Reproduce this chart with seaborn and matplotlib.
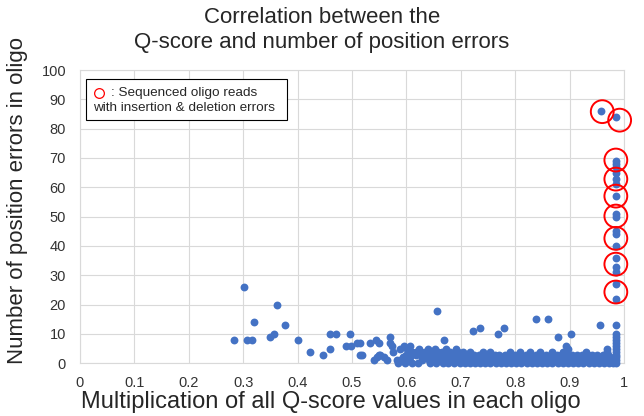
import matplotlib
matplotlib.use("Agg")
import pandas as pd
import matplotlib.pyplot as plt
import seaborn as sns
from matplotlib.patches import Rectangle

# dense band along the x axis: q-score products for each low error count
err0_q = [0.585, 0.598, 0.610, 0.622, 0.644, 0.655, 0.668, 0.677, 0.688, 0.698, 0.707,
          0.716, 0.726, 0.735, 0.745, 0.754, 0.764, 0.773, 0.783, 0.792, 0.802, 0.811,
          0.821, 0.830, 0.840, 0.849, 0.859, 0.868, 0.878, 0.887, 0.897, 0.906, 0.916,
          0.925, 0.935, 0.944, 0.954, 0.963, 0.972, 0.980, 0.985]
err1_q = [0.540, 0.564, 0.582, 0.588, 0.604, 0.628, 0.641, 0.662, 0.672, 0.683, 0.693,
          0.702, 0.711, 0.721, 0.730, 0.740, 0.749, 0.759, 0.768, 0.778, 0.787, 0.797,
          0.806, 0.816, 0.825, 0.835, 0.844, 0.854, 0.863, 0.873, 0.882, 0.892, 0.901,
          0.911, 0.920, 0.930, 0.939, 0.949, 0.958, 0.967, 0.976, 0.985]
err2_q = [0.546, 0.558, 0.594, 0.606, 0.629, 0.650, 0.660, 0.670, 0.679, 0.690, 0.700,
          0.709, 0.719, 0.728, 0.738, 0.747, 0.757, 0.766, 0.776, 0.785, 0.795, 0.804,
          0.814, 0.823, 0.833, 0.842, 0.852, 0.861, 0.871, 0.880, 0.890, 0.899, 0.909,
          0.918, 0.928, 0.937, 0.947, 0.956, 0.965, 0.974, 0.985]
err3_q = [0.447, 0.515, 0.518, 0.549, 0.552, 0.600, 0.618, 0.638, 0.657, 0.674, 0.686,
          0.697, 0.713, 0.724, 0.733, 0.743, 0.752, 0.762, 0.771, 0.781, 0.790, 0.800,
          0.809, 0.819, 0.828, 0.838, 0.847, 0.857, 0.866, 0.876, 0.885, 0.895, 0.904,
          0.914, 0.923, 0.933, 0.942, 0.951, 0.961, 0.970, 0.985]
err4_q = [0.423, 0.576, 0.611, 0.617, 0.626, 0.635, 0.646, 0.658, 0.666, 0.680, 0.694,
          0.704, 0.716, 0.741, 0.753, 0.790, 0.808, 0.827, 0.846, 0.867, 0.888, 0.930,
          0.968, 0.985]

# scattered points above the band
sparse_q = [0.459, 0.588, 0.601, 0.623, 0.640, 0.652, 0.672, 0.691, 0.897, 0.969, 0.985,
            0.489, 0.498, 0.573, 0.595, 0.607, 0.894, 0.985,
            0.509, 0.515, 0.533, 0.549, 0.570, 0.985,
            0.283, 0.307, 0.316, 0.401, 0.545, 0.669, 0.985,
            0.349, 0.569, 0.879, 0.985,
            0.356, 0.460, 0.471, 0.497, 0.768, 0.902, 0.985,
            0.723, 0.735, 0.779, 0.377, 0.955, 0.985, 0.319, 0.838, 0.861,
            0.656, 0.363, 0.302]
sparse_err = [5, 5, 5, 5, 5, 5, 5, 5, 5, 5, 5,
              6, 6, 6, 6, 6, 6, 6,
              7, 7, 7, 7, 7, 7,
              8, 8, 8, 8, 8, 8, 8,
              9, 9, 9, 9,
              10, 10, 10, 10, 10, 10, 10,
              11, 12, 12, 13, 13, 13, 14, 15, 15,
              18, 20, 26]

# reads with insertion & deletion errors (high error counts)
high_q = [0.985] * 18 + [0.957]
high_err = [22, 27, 31, 33, 36, 40, 44, 45, 50, 51, 57, 61, 63, 65, 67, 68, 69, 84, 86]

# red circles marking the indel groups
indel_q = [0.960, 0.992, 0.985, 0.985, 0.985, 0.985, 0.985, 0.985, 0.985]
indel_err = [85.8, 82.9, 69.3, 62.8, 57.0, 50.2, 42.6, 33.8, 24.3]

x_ticks = [0, 0.1, 0.2, 0.3, 0.4, 0.5, 0.6, 0.7, 0.8, 0.9, 1]
x_labels = ["0", "0.1", "0.2", "0.3", "0.4", "0.5", "0.6", "0.7", "0.8", "0.9", "1"]
y_ticks = list(range(0, 101, 10))

q_all, err_all = [], []
for level, qs in enumerate([err0_q, err1_q, err2_q, err3_q, err4_q]):
    q_all += qs
    err_all += [level] * len(qs)
q_all += sparse_q + high_q
err_all += sparse_err + high_err
df = pd.DataFrame({"q": q_all, "err": err_all})

sns.set_theme(style="whitegrid")
plt.rcParams['font.family'] = ['Liberation Sans', 'DejaVu Sans']

fig = plt.figure(figsize=(6.44, 4.16), dpi=100)
ax = fig.add_axes([80 / 644, (416 - 363.3) / 416, 544 / 644, 293.3 / 416])

sns.scatterplot(data=df, x="q", y="err", ax=ax, color="#4472C4", s=32,
                linewidth=0, zorder=3, clip_on=False)
ax.scatter(indel_q, indel_err, s=270, facecolors="none", edgecolors="#FF0000",
           linewidths=1.4, zorder=4, clip_on=False)

ax.set_xlim(0, 1)
ax.set_ylim(0, 100)
ax.set_xticks(x_ticks)
ax.set_xticklabels(x_labels)
ax.set_yticks(y_ticks)
ax.set_xlabel("")
ax.set_ylabel("")
ax.grid(True, color="#D9D9D9", linewidth=0.8)
for sp in ax.spines.values():
    sp.set_color("#D9D9D9")
    sp.set_linewidth(0.8)
ax.tick_params(axis="both", labelsize=10.5, colors="#333333", length=0)
ax.tick_params(axis="x", pad=9)
ax.tick_params(axis="y", pad=10)
ax.set_facecolor("white")

# legend-like note box
ax.add_patch(Rectangle((0.0105, 0.8295), 0.3695, 0.1385, transform=ax.transAxes,
                       facecolor="white", edgecolor="black", linewidth=0.8, zorder=5))
ax.plot(0.0349, 0.923, marker="o", ms=7, mfc="none", mec="#FF0000", mew=0.9,
        transform=ax.transAxes, zorder=6, clip_on=False)
ax.text(0.0564, 0.923, ": Sequenced oligo reads", transform=ax.transAxes,
        va="center", ha="left", fontsize=9.7, zorder=6)
ax.text(0.0244, 0.869, "with insertion & deletion errors", transform=ax.transAxes,
        va="center", ha="left", fontsize=9.7, zorder=6)

fig.text(0.5, 1 - 30 / 416, "Correlation between the\nQ-score and number of position errors",
         ha="center", va="center", fontsize=16, linespacing=1.3)
fig.text(331 / 644, 1 - 402 / 416, "Multiplication of all Q-score values in each oligo",
         ha="center", va="center", fontsize=17)
fig.text(18 / 644, 1 - 200 / 416, "Number of position errors in oligo",
         ha="center", va="center", rotation=90, fontsize=16)

fig.savefig("out.png", dpi=100, facecolor="white")
